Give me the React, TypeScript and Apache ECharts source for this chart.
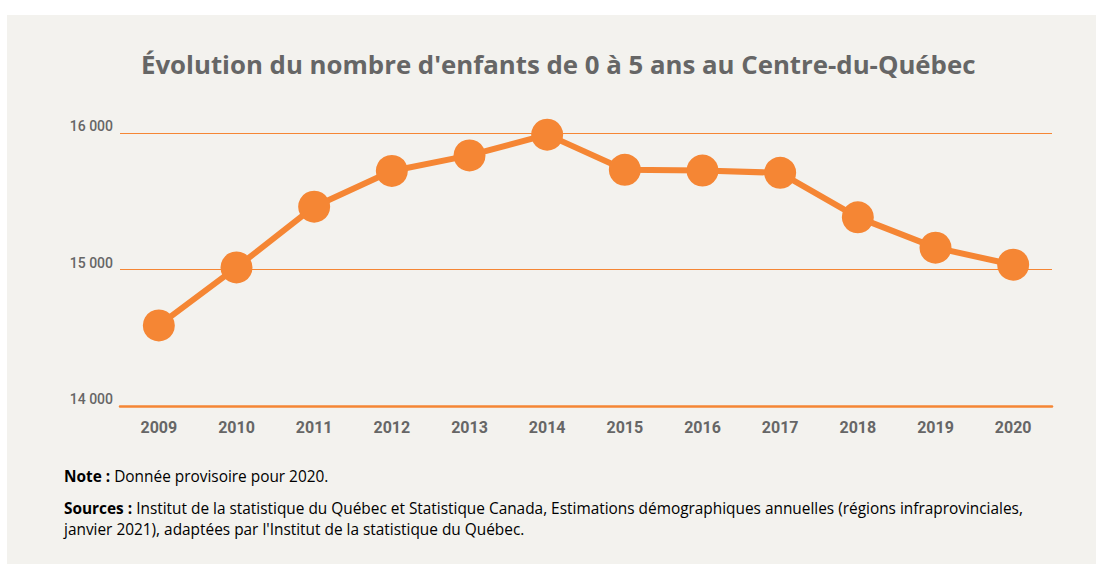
import React, { useEffect, useRef } from "react";
import * as echarts from "echarts";

const years = ["2009", "2010", "2011", "2012", "2013", "2014", "2015", "2016", "2017", "2018", "2019", "2020"];
const enfants = [14590, 15015, 15460, 15722, 15836, 15988, 15730, 15725, 15708, 15382, 15160, 15035];
const yTicks = { min: 14000, max: 16000, interval: 1000 };

const title = "Évolution du nombre d'enfants de 0 à 5 ans au Centre-du-Québec";
const noteLabel = "Note :";
const noteText = " Donnée provisoire pour 2020.";
const sourcesLabel = "Sources :";
const sourcesLine1 = " Institut de la statistique du Québec et Statistique Canada, Estimations démographiques annuelles (régions infraprovinciales,";
const sourcesLine2 = "janvier 2021), adaptées par l'Institut de la statistique du Québec.";

const ORANGE = "#f58634";
const GREY = "#666666";
const TEXT = "#595959";
const NARROW = "Roboto, 'Noto Sans', sans-serif";
const BODY = "'Open Sans', Lato, sans-serif";

function fmt(v: number) {
  const s = String(Math.round(v));
  return s.replace(/\B(?=(\d{3})+(?!\d))/g, " ");
}

export default function App() {
  const ref = useRef<HTMLDivElement>(null);
  useEffect(() => {
    document.body.style.margin = "0";
    const chart = echarts.init(ref.current!, null, { renderer: "svg" });
    chart.setOption({
      animation: false,
      backgroundColor: "#ffffff",
      graphic: [
        { type: "rect", z: -10, shape: { x: 7, y: 15, width: 1089, height: 549 }, style: { fill: "#f3f2ee" } },
        {
          type: "text", left: 141, top: 51,
          style: { text: title, fill: GREY, font: `bold 25.8px ${BODY}` },
        },
        {
          type: "text", left: 64, top: 469,
          style: {
            text: `{b|${noteLabel}}{r|${noteText}}`,
            rich: {
              b: { fontFamily: BODY, fontWeight: "bold", fontSize: 15.4, lineHeight: 21, color: TEXT },
              r: { fontFamily: BODY, fontSize: 15.4, lineHeight: 21, color: TEXT },
            },
          },
        },
        {
          type: "text", left: 64, top: 501,
          style: {
            text: `{b|${sourcesLabel}}{r|${sourcesLine1}}\n{r|${sourcesLine2}}`,
            rich: {
              b: { fontFamily: BODY, fontWeight: "bold", fontSize: 15.4, lineHeight: 21, color: TEXT },
              r: { fontFamily: BODY, fontSize: 15.4, lineHeight: 21, color: TEXT },
            },
          },
        },
      ],
      grid: { left: 120, right: 44, top: 133, bottom: 158, containLabel: false },
      xAxis: {
        type: "category",
        data: years,
        boundaryGap: true,
        axisLine: { lineStyle: { color: ORANGE, width: 2.5 } },
        axisTick: { show: false },
        axisLabel: { color: GREY, fontFamily: NARROW, fontWeight: "bold", fontSize: 16, margin: 13 },
      },
      yAxis: {
        type: "value",
        min: yTicks.min,
        max: yTicks.max,
        interval: yTicks.interval,
        axisLine: { show: false },
        axisTick: { show: false },
        splitLine: { show: true, lineStyle: { color: ORANGE, width: 1, opacity: 1 } },
        axisLabel: {
          color: GREY, fontFamily: NARROW, fontWeight: 500, fontSize: 14, margin: 7,
          verticalAlign: "bottom",
          formatter: (v: number) => fmt(v),
        },
      },
      series: [
        {
          type: "line",
          data: enfants,
          symbol: "circle",
          symbolSize: 32,
          lineStyle: { color: ORANGE, width: 6 },
          itemStyle: { color: ORANGE },
          label: { show: false },
        },
      ],
    });
    return () => chart.dispose();
  }, []);
  return <div ref={ref} style={{ width: 1096, height: 564 }} />;
}
